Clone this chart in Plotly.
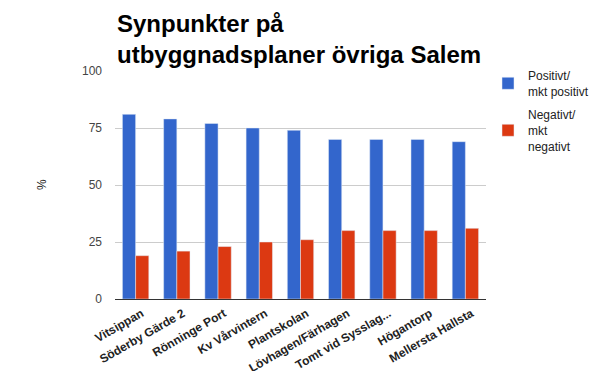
import plotly.graph_objects as go

categories = ["Vitsippan", "Söderby Gärde 2", "Rönninge Port", "Kv Vårvintern",
              "Plantskolan", "Lövhagen/Färhagen", "Tomt vid Sysslag...", "Högantorp",
              "Mellersta Hallsta"]
positive = [81, 79, 77, 75, 74, 70, 70, 70, 69]
negative = [19, 21, 23, 25, 26, 30, 30, 30, 31]
series_names = ["Positivt/<br>mkt positivt", "Negativt/<br>mkt<br>negativt"]
y_ticks = [0, 25, 50, 75, 100]
title_lines = ["<b>Synpunkter på</b>", "<b>utbyggnadsplaner övriga Salem</b>"]

fig = go.Figure()
fig.add_bar(x=categories, y=positive, name=series_names[0], marker_color="#3366cc",
            legendgroup="pos")
fig.add_bar(x=categories, y=negative, name=series_names[1], marker_color="#dc3912",
            legendgroup="neg")

# page body has an 8px offset; compensate so the plot area lands at x 115-486, y 71-299
OFF = 8
W, H = 600, 371
L, T = 115 - OFF, 71 - OFF
R = W - (486 - OFF)
B = H - (299 - OFF)
pw = W - L - R
ph = H - T - B


def py(v):
    """viewport pixel row -> paper y"""
    return 1 + (T - (v - OFF)) / ph


fig.update_layout(
    width=W, height=H,
    margin=dict(l=L, r=R, t=T, b=B),
    paper_bgcolor="white", plot_bgcolor="white",
    barmode="group", bargap=0.36, bargroupgap=0.0,
    font=dict(family="Liberation Sans, Arial, sans-serif", color="#222"),
    legend=dict(x=(488 - OFF) / W, xref="container", y=1.043, yref="paper",
                xanchor="left", yanchor="top",
                font=dict(size=12, color="#222"), tracegroupgap=5,
                bgcolor="rgba(0,0,0,0)"),
    xaxis=dict(tickangle=-30, tickfont=dict(size=12, color="#222"),
               showline=True, linecolor="#333", linewidth=1, ticks="",
               ticklabelshift=6, ticklabelstandoff=2,
               automargin=False, tickprefix="<b>", ticksuffix="</b>"),
    yaxis=dict(range=[0, 100], tickvals=y_ticks, showgrid=True,
               gridcolor="#cccccc", zeroline=False,
               tickfont=dict(size=12, color="#444"), ticks="",
               ticklabelstandoff=12, automargin=False),
    annotations=[
        dict(text="%", xref="paper", yref="paper",
             x=(42 - 115) / pw, y=0.5, xanchor="center", yanchor="middle",
             showarrow=False, textangle=-90,
             font=dict(size=12, color="#222")),
        dict(text=title_lines[0], xref="paper", yref="paper",
             x=0, y=py(24), xanchor="left", yanchor="middle",
             showarrow=False, align="left",
             font=dict(size=24, color="#000")),
        dict(text=title_lines[1], xref="paper", yref="paper",
             x=0, y=py(54), xanchor="left", yanchor="middle",
             showarrow=False, align="left",
             font=dict(size=24, color="#000")),
    ],
)

fig.write_html("out.html")
